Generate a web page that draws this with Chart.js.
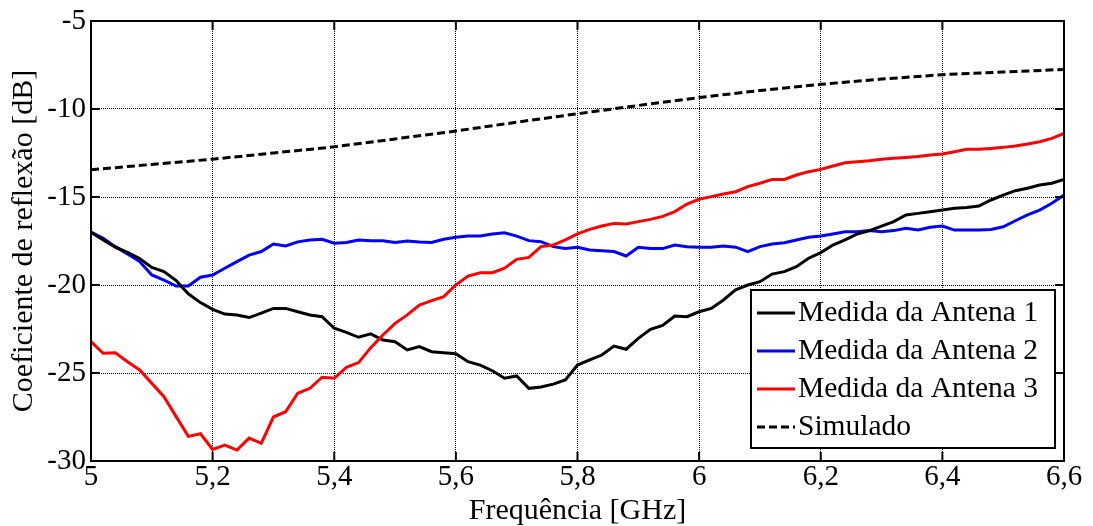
<!DOCTYPE html>
<html>
<head>
<meta charset="utf-8">
<script src="https://cdn.jsdelivr.net/npm/chart.js@4"></script>
<style>
  html, body { margin: 0; padding: 0; background: #fff; }
  canvas { display: block; }
</style>
</head>
<body>
<canvas id="myChart" width="1093" height="526"></canvas>
<script>
// sample frequencies of the measurements [GHz]
const freqs = [
  5.00, 5.02, 5.04, 5.06, 5.08, 5.10, 5.12, 5.14, 5.16, 5.18,
  5.20, 5.22, 5.24, 5.26, 5.28, 5.30, 5.32, 5.34, 5.36, 5.38,
  5.40, 5.42, 5.44, 5.46, 5.48, 5.50, 5.52, 5.54, 5.56, 5.58,
  5.60, 5.62, 5.64, 5.66, 5.68, 5.70, 5.72, 5.74, 5.76, 5.78,
  5.80, 5.82, 5.84, 5.86, 5.88, 5.90, 5.92, 5.94, 5.96, 5.98,
  6.00, 6.02, 6.04, 6.06, 6.08, 6.10, 6.12, 6.14, 6.16, 6.18,
  6.20, 6.22, 6.24, 6.26, 6.28, 6.30, 6.32, 6.34, 6.36, 6.38,
  6.40, 6.42, 6.44, 6.46, 6.48, 6.50, 6.52, 6.54, 6.56, 6.58,
  6.60,
];

const antena1 = [
  -17.0, -17.44, -17.85, -18.15, -18.5, -19.0, -19.24, -19.75, -20.5, -21.0,
  -21.38, -21.65, -21.7, -21.85, -21.6, -21.33, -21.33, -21.52, -21.7, -21.8,
  -22.46, -22.69, -22.97, -22.78, -23.13, -23.22, -23.69, -23.5, -23.79, -23.85,
  -23.9, -24.36, -24.55, -24.87, -25.3, -25.17, -25.87, -25.8, -25.63, -25.4,
  -24.55, -24.26, -23.98, -23.47, -23.65, -23.03, -22.52, -22.3, -21.76, -21.8,
  -21.52, -21.33, -20.85, -20.28, -20.0, -19.81, -19.38, -19.24, -18.96, -18.48,
  -18.16, -17.73, -17.44, -17.1, -16.91, -16.65, -16.4, -16.02, -15.93, -15.84,
  -15.74, -15.64, -15.6, -15.51, -15.17, -14.89, -14.64, -14.5, -14.32, -14.22,
  -14.0,
];

const antena2 = [
  -17.0, -17.35, -17.82, -18.24, -18.67, -19.43, -19.72, -20.06, -20.06, -19.56,
  -19.43, -19.05, -18.67, -18.3, -18.1, -17.67, -17.78, -17.55, -17.44, -17.4,
  -17.63, -17.58, -17.44, -17.48, -17.48, -17.59, -17.5, -17.55, -17.58, -17.4,
  -17.29, -17.22, -17.22, -17.1, -17.03, -17.22, -17.48, -17.54, -17.82, -17.92,
  -17.86, -18.01, -18.05, -18.1, -18.35, -17.86, -17.92, -17.93, -17.73, -17.82,
  -17.85, -17.85, -17.78, -17.85, -18.1, -17.82, -17.67, -17.6, -17.44, -17.29,
  -17.22, -17.1, -16.97, -16.97, -16.91, -16.97, -16.91, -16.78, -16.87, -16.72,
  -16.65, -16.88, -16.88, -16.88, -16.85, -16.69, -16.35, -16.02, -15.74, -15.36,
  -14.89,
];

const antena3 = [
  -23.22, -23.88, -23.85, -24.36, -24.83, -25.59, -26.35, -27.48, -28.6, -28.45,
  -29.34, -29.1, -29.38, -28.7, -29.0, -27.5, -27.2, -26.15, -25.87, -25.24,
  -25.3, -24.68, -24.41, -23.56, -22.84, -22.18, -21.7, -21.14, -20.89, -20.66,
  -20.0, -19.49, -19.3, -19.3, -19.05, -18.54, -18.43, -17.82, -17.73, -17.44,
  -17.1, -16.84, -16.65, -16.5, -16.53, -16.4, -16.27, -16.1, -15.83, -15.4,
  -15.13, -14.98, -14.83, -14.7, -14.41, -14.22, -14.0, -14.0, -13.75, -13.56,
  -13.43, -13.24, -13.05, -13.0, -12.94, -12.86, -12.8, -12.75, -12.7, -12.61,
  -12.56, -12.43, -12.29, -12.29, -12.24, -12.18, -12.1, -11.99, -11.86, -11.67,
  -11.38,
];

// simulated response
const simFreqs = [5.0, 5.1, 5.2, 5.3, 5.4, 5.5, 5.6, 5.7, 5.8, 5.9, 6.0, 6.1, 6.2, 6.3, 6.4, 6.5, 6.6];
const simulado = [-13.45, -13.15, -12.85, -12.5, -12.15, -11.7, -11.25, -10.75, -10.27, -9.8, -9.35, -8.95, -8.6, -8.3, -8.05, -7.9, -7.75];

const xTicks = [5, 5.2, 5.4, 5.6, 5.8, 6, 6.2, 6.4, 6.6];
const yTicks = [-30, -25, -20, -15, -10, -5];

const labels = ["Medida da Antena 1", "Medida da Antena 2", "Medida da Antena 3", "Simulado"];

const serif = "'Liberation Serif', 'Times New Roman', serif";
const toPoints = (xs, ys) => xs.map((x, i) => ({ x: x, y: ys[i] }));

// box around the plot with the tick marks pointing inwards
const axesBox = {
  id: "axesBox",
  afterDatasetsDraw(chart) {
    const { ctx, chartArea: a, scales } = chart;
    const len = 9;
    ctx.save();
    ctx.strokeStyle = "#000";
    ctx.lineWidth = 2;
    ctx.setLineDash([]);
    ctx.beginPath();
    xTicks.forEach((v) => {
      const px = scales.x.getPixelForValue(v);
      ctx.moveTo(px, a.bottom);
      ctx.lineTo(px, a.bottom - len);
      ctx.moveTo(px, a.top);
      ctx.lineTo(px, a.top + len);
    });
    yTicks.forEach((v) => {
      const py = scales.y.getPixelForValue(v);
      ctx.moveTo(a.left, py);
      ctx.lineTo(a.left + len, py);
      ctx.moveTo(a.right, py);
      ctx.lineTo(a.right - len, py);
    });
    ctx.stroke();
    ctx.strokeRect(a.left, a.top, a.right - a.left, a.bottom - a.top);
    ctx.restore();
  },
};

// legend in a framed box, lower right corner of the plot
const boxLegend = {
  id: "boxLegend",
  afterDraw(chart) {
    const { ctx, chartArea: a } = chart;
    const sets = chart.data.datasets;
    ctx.save();
    ctx.font = "29.5px " + serif;
    const textW = Math.max(...sets.map((d) => ctx.measureText(d.label).width));
    const rowH = 38;
    const w = 8 + 36 + 3 + textW + 17;
    const h = rowH * sets.length + 6;
    const right = a.right - 9;
    const bottom = a.bottom - 13;
    const left = right - w;
    const top = bottom - h;

    ctx.fillStyle = "#fff";
    ctx.fillRect(left, top, w, h);
    ctx.strokeStyle = "#000";
    ctx.lineWidth = 2;
    ctx.setLineDash([]);
    ctx.strokeRect(left, top, w, h);

    sets.forEach((d, i) => {
      const cy = top + 4 + rowH * (i + 0.5);
      ctx.strokeStyle = d.borderColor;
      ctx.lineWidth = 3;
      ctx.setLineDash(d.borderDash || []);
      ctx.beginPath();
      ctx.moveTo(left + 6, cy);
      ctx.lineTo(left + 44, cy);
      ctx.stroke();
      ctx.fillStyle = "#000";
      ctx.textBaseline = "middle";
      ctx.textAlign = "left";
      ctx.fillText(d.label, left + 47, cy);
    });
    ctx.restore();
  },
};

const ctx = document.getElementById("myChart");
const config = {
  type: "line",
  data: {
    datasets: [
      {
        label: labels[0],
        data: toPoints(freqs, antena1),
        borderColor: "#000000",
        borderWidth: 3,
        order: 1,
      },
      {
        label: labels[1],
        data: toPoints(freqs, antena2),
        borderColor: "#0000ff",
        borderWidth: 3,
        order: 2,
      },
      {
        label: labels[2],
        data: toPoints(freqs, antena3),
        borderColor: "#ff0000",
        borderWidth: 3,
        order: 0,
      },
      {
        label: labels[3],
        data: toPoints(simFreqs, simulado),
        borderColor: "#000000",
        borderWidth: 3,
        borderDash: [8, 4],
        order: 3,
      },
    ],
  },
  options: {
    responsive: false,
    animation: false,
    devicePixelRatio: 1,
    layout: { padding: { left: 0, top: 21, right: 29, bottom: 0 } },
    elements: {
      point: { radius: 0 },
      line: { tension: 0, fill: false },
    },
    plugins: {
      legend: { display: false },
      tooltip: { enabled: false },
    },
    scales: {
      x: {
        type: "linear",
        min: 5,
        max: 6.6,
        afterBuildTicks: (s) => {
          s.ticks = xTicks.map((v) => ({ value: v }));
        },
        afterFit: (s) => {
          s.height = 65;
        },
        grid: { color: "#000", lineWidth: 1, drawTicks: false },
        border: { display: false, dash: [1, 1] },
        ticks: {
          autoSkip: false,
          maxRotation: 0,
          padding: 2,
          color: "#000",
          font: { family: serif, size: 29, lineHeight: 1 },
          callback: (v) => String(v).replace(".", ","),
        },
        title: {
          display: true,
          text: "Frequência [GHz]",
          color: "#000",
          font: { family: serif, size: 30, lineHeight: 1 },
          padding: { top: 0, bottom: 0 },
        },
      },
      y: {
        type: "linear",
        min: -30,
        max: -5,
        afterBuildTicks: (s) => {
          s.ticks = yTicks.map((v) => ({ value: v }));
        },
        afterFit: (s) => {
          s.width = 91;
        },
        grid: { color: "#000", lineWidth: 1, drawTicks: false },
        border: { display: false, dash: [1, 1] },
        ticks: {
          padding: 5,
          color: "#000",
          font: { family: serif, size: 29, lineHeight: 1 },
          callback: (v) => String(v),
        },
        title: {
          display: true,
          text: "Coeficiente de reflexão [dB]",
          color: "#000",
          font: { family: serif, size: 30, lineHeight: 1 },
          padding: { top: 9, bottom: 0 },
        },
      },
    },
  },
  plugins: [axesBox, boxLegend],
};
const myChart = new Chart(ctx, config);
</script>
</body>
</html>
